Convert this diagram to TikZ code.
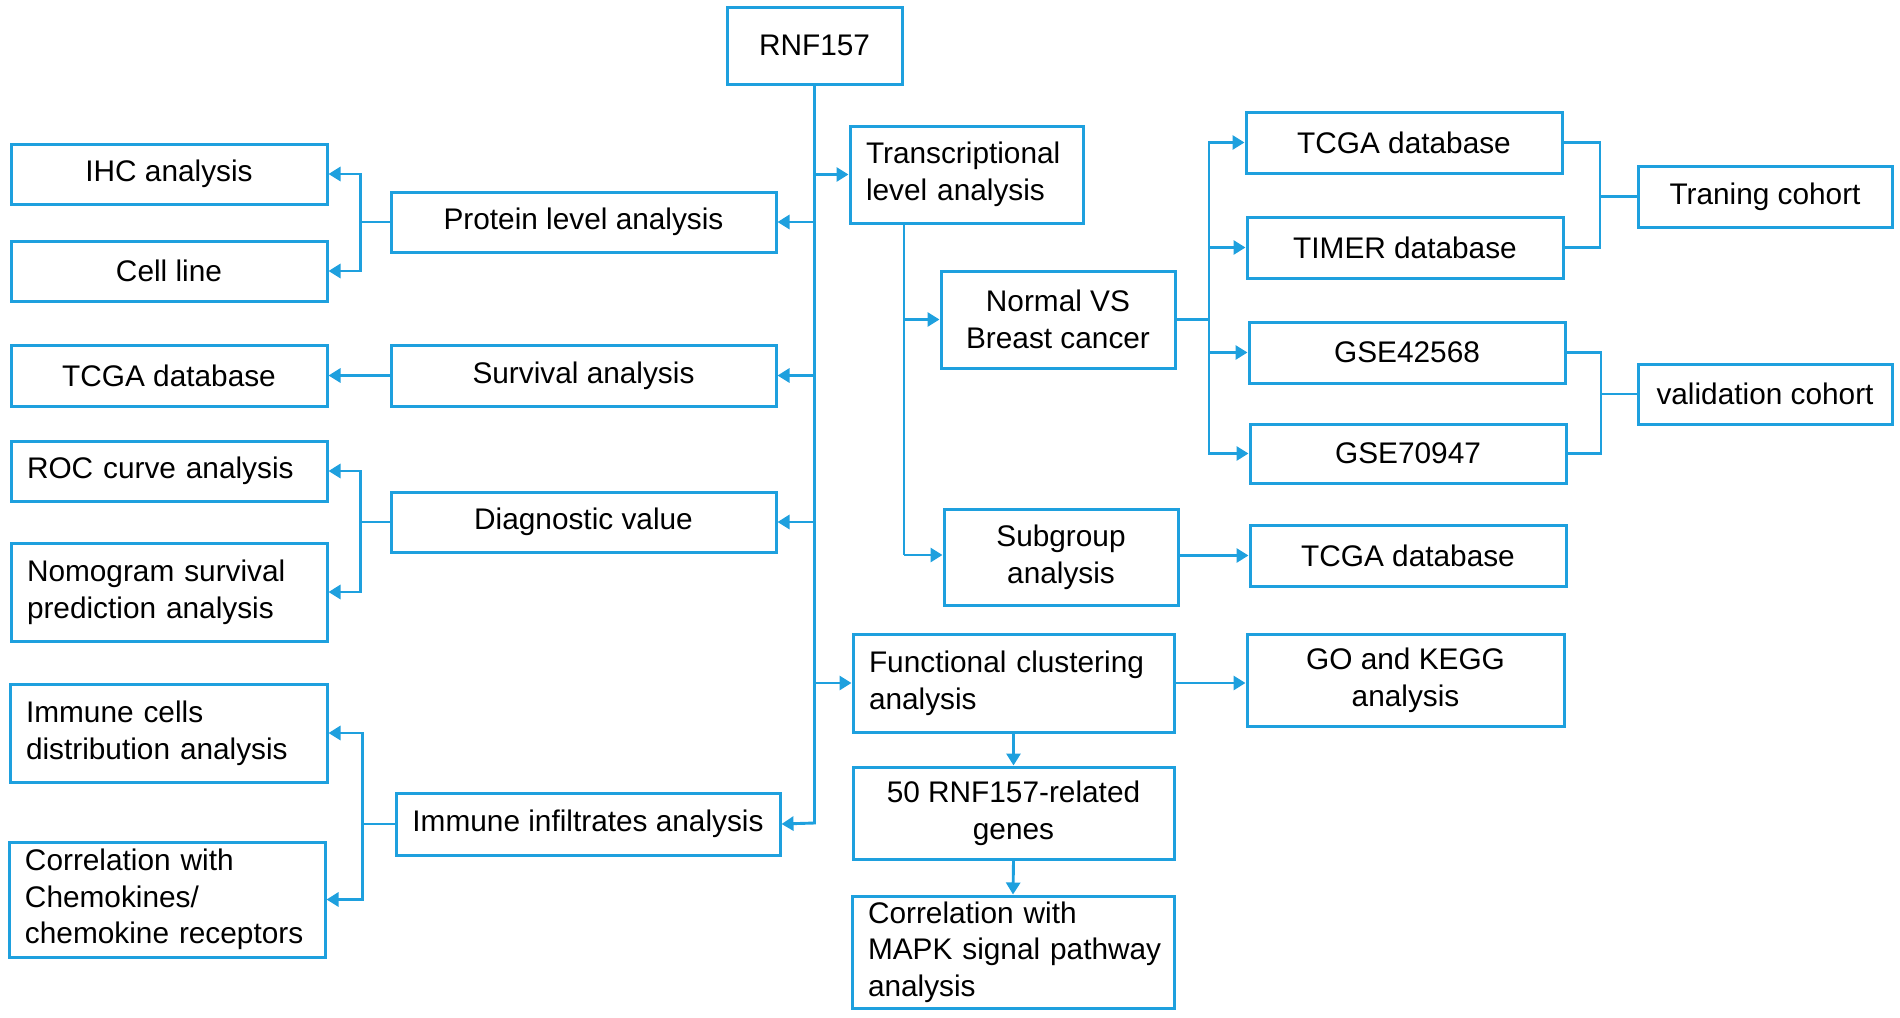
\documentclass[tikz,border=0pt]{standalone}
\usepackage{fontspec}
\setmainfont{Liberation Sans}
\usetikzlibrary{arrows.meta}
\definecolor{lineblue}{RGB}{30,160,222}
\tikzset{
  box/.style={draw=lineblue, line width=1.5pt, rectangle, inner sep=0pt, align=center,
    font=\fontsize{14.9}{18.3}\selectfont, text=black},
  lbox/.style={box, align=left, inner xsep=8pt},
  conn/.style={draw=lineblue, line width=1.45pt},
  arr/.style={conn, -{Triangle[length=6pt,width=7pt]}},
}
\begin{document}
\begin{tikzpicture}[x=0.5pt,y=-0.5pt]
\useasboundingbox (0,0) rectangle (1900,1017);
% top
\node[box, minimum width=87.5pt, minimum height=38.5pt] (rnf) at (814.5,45.5) {RNF157};
% left column
\node[box, minimum width=158pt, minimum height=30pt] (ihc) at (169,174) {IHC analysis};
\node[box, minimum width=158pt, minimum height=30pt] (cell) at (169,271) {Cell line};
\node[box, minimum width=158pt, minimum height=30.5pt] (tcgaL) at (169,375.5) {TCGA database};
\node[lbox, minimum width=158pt, minimum height=30pt, text width=142pt] (roc) at (169,471) {\mbox{ROC curve analysis}};
\node[lbox, minimum width=158pt, minimum height=49pt, text width=142pt] (nomo) at (169,592) {\mbox{Nomogram survival}\\\mbox{prediction analysis}};
\node[lbox, minimum width=158.5pt, minimum height=49pt, text width=142.5pt] (immc) at (168.5,733) {\mbox{Immune cells}\\\mbox{distribution analysis}};
\node[lbox, minimum width=158pt, minimum height=57.5pt, text width=142pt] (chem) at (167,899.5) {\mbox{Correlation with}\\\mbox{Chemokines/}\\\mbox{chemokine receptors}};
% middle-left column
\node[box, minimum width=192.5pt, minimum height=30pt] (prot) at (583.5,222) {Protein level analysis};
\node[box, minimum width=192.5pt, minimum height=30.5pt] (surv) at (583.5,375.5) {Survival analysis};
\node[box, minimum width=192.5pt, minimum height=30pt] (diag) at (583.5,522) {Diagnostic value};
\node[box, minimum width=192pt, minimum height=31pt] (immi) at (588,824) {Immune infiltrates analysis};
% middle-right column
\node[lbox, minimum width=116.5pt, minimum height=48.5pt, text width=100.5pt] (trans) at (966.5,174.5) {\mbox{Transcriptional}\\\mbox{level analysis}};
\node[box, minimum width=117pt, minimum height=48.5pt] (nvb) at (1058,319.5) {Normal VS\\Breast cancer};
\node[box, minimum width=117pt, minimum height=48pt] (sub) at (1061,557) {Subgroup\\analysis};
\node[lbox, minimum width=160.5pt, minimum height=49pt, text width=144.5pt] (func) at (1013.5,683) {\mbox{Functional clustering}\\\mbox{analysis}};
\node[box, minimum width=160.5pt, minimum height=46pt] (genes) at (1013.5,813) {50 RNF157-related\\genes};
\node[lbox, minimum width=161pt, minimum height=56pt, text width=145pt] (mapk) at (1013,952) {\mbox{Correlation with}\\\mbox{MAPK signal pathway}\\\mbox{analysis}};
% right columns
\node[box, minimum width=158pt, minimum height=30.5pt] (tcgaR) at (1404,142.5) {TCGA database};
\node[box, minimum width=158pt, minimum height=30.5pt] (timer) at (1405,247.5) {TIMER database};
\node[box, minimum width=158pt, minimum height=30.5pt] (gse1) at (1407,352.5) {GSE42568};
\node[box, minimum width=158pt, minimum height=29.5pt] (gse2) at (1408,453.5) {GSE70947};
\node[box, minimum width=158pt, minimum height=30.5pt] (tcgaS) at (1408,555.5) {TCGA database};
\node[box, minimum width=158.5pt, minimum height=46pt] (gokegg) at (1405.5,680) {GO and KEGG\\analysis};
\node[box, minimum width=127pt, minimum height=30.5pt] (train) at (1765,196.5) {Traning cohort};
\node[box, minimum width=127pt, minimum height=30pt] (valid) at (1765,394) {validation cohort};
% coordinates
\coordinate (trunk) at (814.5,823);
\coordinate (ttop) at (904,223);
\coordinate (tbot) at (904,555);
\coordinate (nvx) at (1209,319.5);
\coordinate (trx) at (1600,196.5);
\coordinate (vax) at (1601,394);
% main trunk
\draw[arr] (rnf.south) -- (trunk) -- (immi.east);
\draw[arr] (trunk |- prot.east) -- (prot.east);
\draw[arr] (trunk |- surv.east) -- (surv.east);
\draw[arr] (trunk |- diag.east) -- (diag.east);
\draw[arr] (trunk |- trans.west) -- (trans.west);
\draw[arr] (trunk |- func.west) -- (func.west);
% left brackets
\draw[arr] (prot.west) -- ++(-29,0) |- (ihc.east);
\draw[arr] (prot.west) -- ++(-29,0) |- (cell.east);
\draw[arr] (surv.west) -- (tcgaL.east);
\draw[arr] (diag.west) -- ++(-29,0) |- (roc.east);
\draw[arr] (diag.west) -- ++(-29,0) |- (nomo.east);
\draw[arr] (immi.west) -- ++(-32,0) |- (immc.east);
\draw[arr] (immi.west) -- ++(-32,0) |- (chem.east);
% transcriptional branch
\draw[conn] (ttop) -- (tbot);
\draw[arr] (ttop |- nvb.west) -- (nvb.west);
\draw[arr] (tbot) -- (tbot -| sub.west);
\draw[conn] (nvb.east) -- (nvx);
\draw[arr] (nvx) |- (tcgaR.west);
\draw[arr] (nvx) |- (timer.west);
\draw[arr] (nvx) |- (gse1.west);
\draw[arr] (nvx) |- (gse2.west);
\draw[conn] (tcgaR.east) -| (trx) -- (train.west);
\draw[conn] (timer.east) -| (trx);
\draw[conn] (gse1.east) -| (vax) -- (valid.west);
\draw[conn] (gse2.east) -| (vax);
\draw[arr] (sub.east |- tcgaS.west) -- (tcgaS.west);
% functional branch
\draw[arr] (func.east) -- (func.east -| gokegg.west);
\draw[arr] (func.south) -- (genes.north);
\draw[arr] (genes.south) -- (mapk.north);
\end{tikzpicture}
\end{document}
